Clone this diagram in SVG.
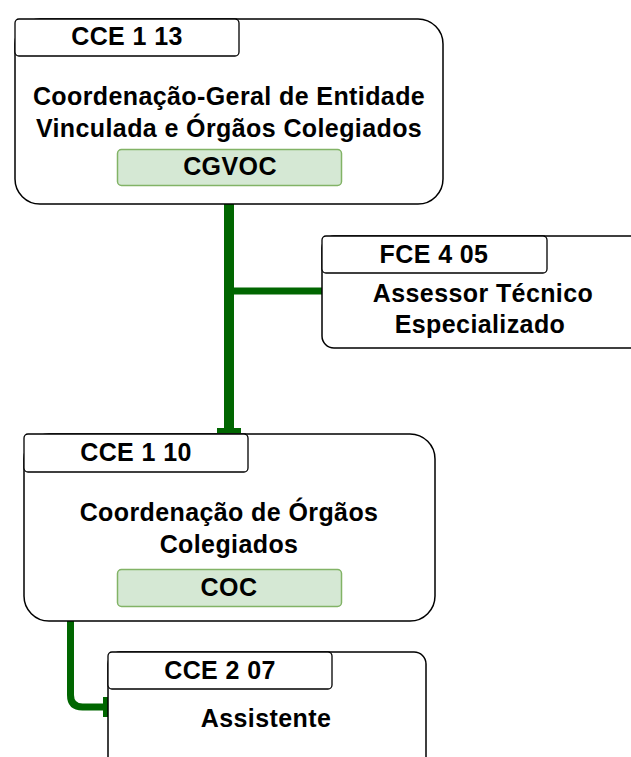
<svg xmlns="http://www.w3.org/2000/svg" width="631" height="757" viewBox="0 0 631 757">
<style>
.box{fill:#ffffff;stroke:#000000;stroke-width:1.5}
.hdr{fill:#ffffff;stroke:#000000;stroke-width:1.3}
.tag{fill:#d5e8d4;stroke:#82b366;stroke-width:1.5}
.t{font-family:"Liberation Sans",Arial,sans-serif;font-weight:bold;font-size:25px;letter-spacing:0.4px;fill:#000000;text-anchor:middle}
.c{fill:none;stroke:#006600}
</style>
<rect width="631" height="757" fill="#ffffff"/>
<g id="connectors">
<path class="c" d="M229 204 V430" stroke-width="10"/>
<path class="c" d="M229 291 H322" stroke-width="7"/>
<rect x="217" y="428" width="24" height="5" fill="#006600"/>
<path class="c" d="M70.5 621 V695 Q70.5 707 82.5 707 H106" stroke-width="7"/>
<rect x="103" y="697" width="5" height="20" fill="#006600"/>
</g>
<g id="node-cgvoc">
<rect class="box" x="15" y="19" width="428" height="185" rx="25" ry="25"/>
<rect class="hdr" x="15" y="19" width="224" height="37" rx="4" ry="4"/>
<text class="t" x="127" y="45">CCE 1 13</text>
<text class="t" x="229" y="105">Coordenação-Geral de Entidade</text>
<text class="t" x="229" y="137">Vinculada e Órgãos Colegiados</text>
<rect class="tag" x="117.5" y="149.5" width="224" height="36" rx="4" ry="4"/>
<text class="t" x="230" y="175">CGVOC</text>
</g>
<g id="node-fce">
<rect class="box" x="322" y="236" width="320" height="112" rx="12" ry="12"/>
<rect class="hdr" x="322" y="236" width="225" height="37" rx="4" ry="4"/>
<text class="t" x="434" y="263">FCE 4 05</text>
<text class="t" x="483" y="302">Assessor Técnico</text>
<text class="t" x="480" y="333">Especializado</text>
</g>
<g id="node-coc">
<rect class="box" x="24" y="434" width="411" height="187" rx="25" ry="25"/>
<rect class="hdr" x="24" y="434" width="224" height="38" rx="4" ry="4"/>
<text class="t" x="136" y="461">CCE 1 10</text>
<text class="t" x="229" y="521">Coordenação de Órgãos</text>
<text class="t" x="229" y="553">Colegiados</text>
<rect class="tag" x="117.5" y="569.5" width="224" height="37" rx="4" ry="4"/>
<text class="t" x="229" y="596">COC</text>
</g>
<g id="node-assistente">
<rect class="box" x="108" y="652" width="318" height="140" rx="12" ry="12"/>
<rect class="hdr" x="108" y="652" width="224" height="37" rx="4" ry="4"/>
<text class="t" x="220" y="679">CCE 2 07</text>
<text class="t" x="266" y="727">Assistente</text>
</g>
</svg>
